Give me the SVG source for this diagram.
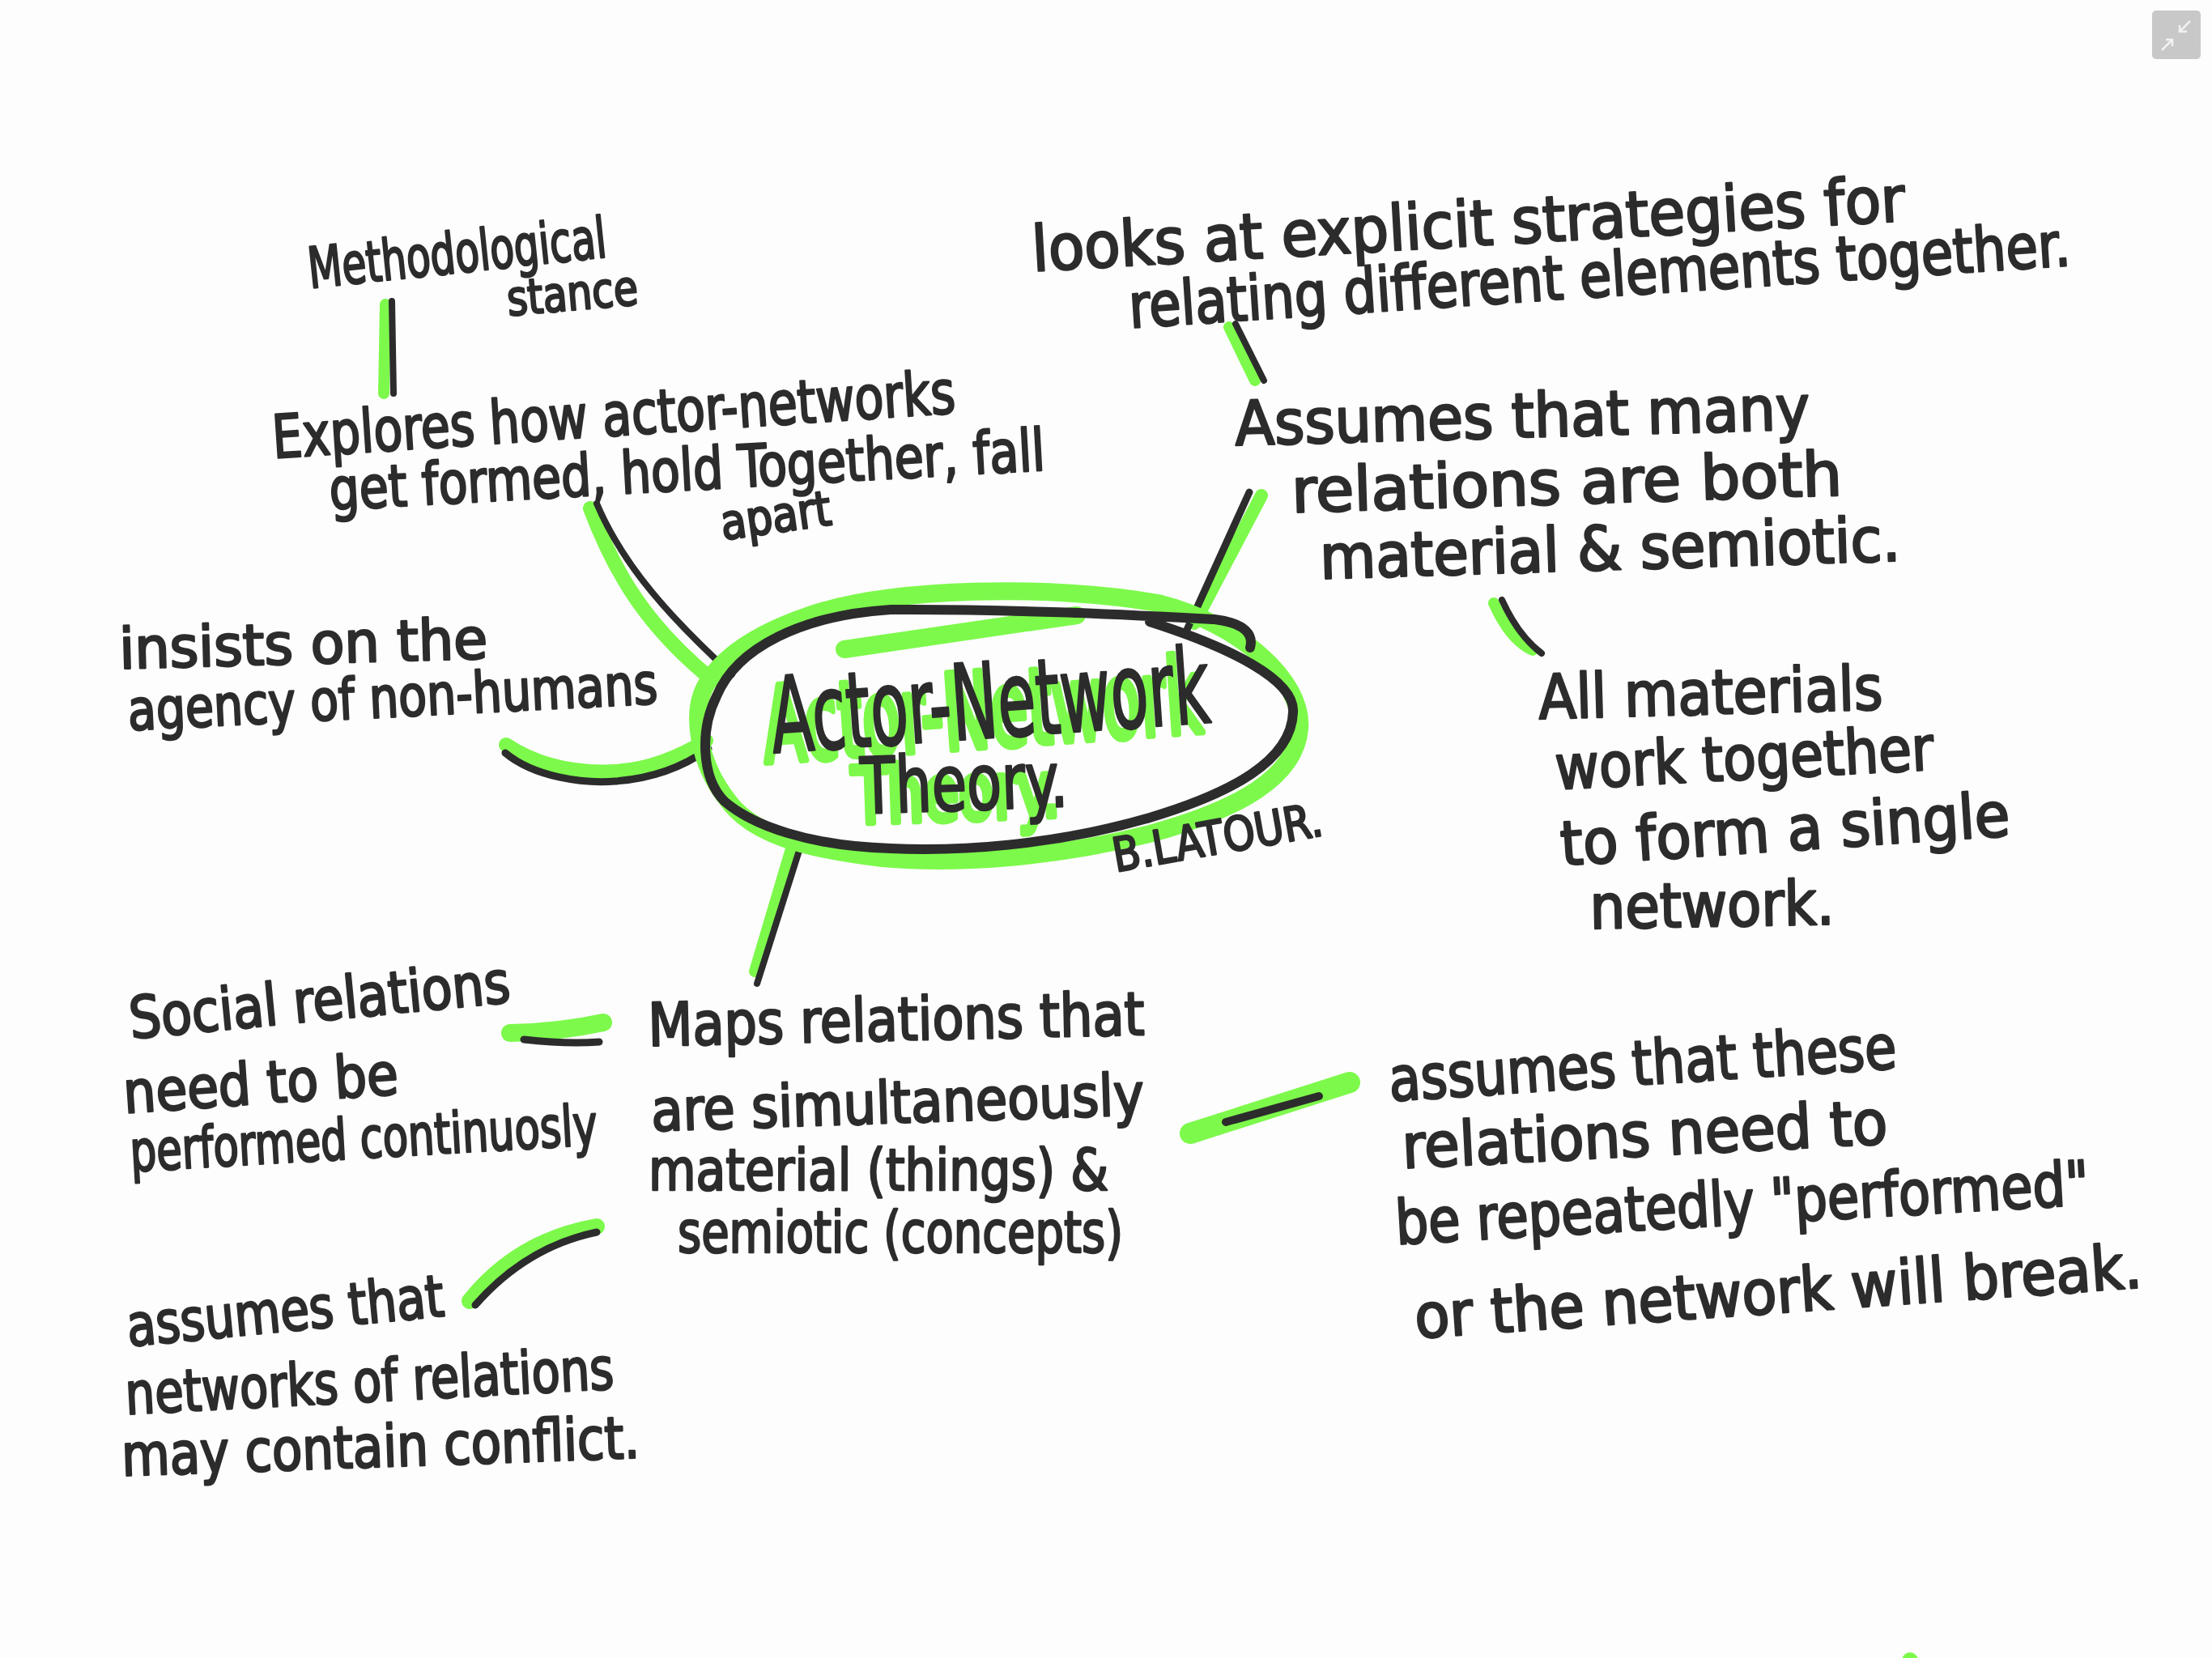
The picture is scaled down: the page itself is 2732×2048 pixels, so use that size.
<svg xmlns="http://www.w3.org/2000/svg" width="2732" height="2048" viewBox="0 0 2732 2048">
<style>
.t{font-family:"Liberation Sans Narrow","DejaVu Sans Condensed","Liberation Sans",sans-serif;fill:#2c2c2c;stroke:#2c2c2c;stroke-width:2.5;stroke-linejoin:round}
.g{fill:none;stroke:#7df94b;stroke-linecap:round;stroke-linejoin:round}
.k{fill:none;stroke:#2c2c2c;stroke-linecap:round;stroke-linejoin:round}
.gt{font-family:"Liberation Sans Narrow","DejaVu Sans Condensed","Liberation Sans",sans-serif;fill:#7df94b;stroke:#7df94b;stroke-width:8;stroke-linejoin:round}
</style>
<rect width="2732" height="2048" fill="#fdfdfd"/>

<g id="connectors">
  <path class="g" stroke-width="14" d="M476,376 L474,486"/>
  <path class="k" stroke-width="8" d="M484,372 L486,486"/>
  <path class="g" stroke-width="18" d="M729,628 C760,710 800,775 880,840"/>
  <path class="k" stroke-width="8" d="M737,622 C770,700 830,765 904,833"/>
  <path class="g" stroke-width="14" d="M1518,404 L1550,470"/>
  <path class="k" stroke-width="8" d="M1526,400 L1561,470"/>
  <path class="g" stroke-width="16" d="M1558,612 L1475,770"/>
  <path class="k" stroke-width="9" d="M1543,608 L1465,780"/>
  <path class="g" stroke-width="14" d="M1845,745 Q1865,790 1893,803"/>
  <path class="k" stroke-width="8" d="M1855,741 Q1875,785 1904,807"/>
  <path class="g" stroke-width="18" d="M625,920 C670,950 720,955 760,953 C800,951 840,935 872,915"/>
  <path class="k" stroke-width="9" d="M624,930 C660,960 720,968 760,965 C800,962 840,950 875,925"/>
  <path class="g" stroke-width="14" d="M978,1045 L932,1200"/>
  <path class="k" stroke-width="8" d="M992,1035 L935,1215"/>
  <path class="g" stroke-width="22" d="M630,1276 Q690,1275 745,1263"/>
  <path class="k" stroke-width="9" d="M647,1284 Q700,1290 740,1287"/>
  <path class="g" stroke-width="20" d="M580,1607 Q640,1532 737,1515"/>
  <path class="k" stroke-width="9" d="M587,1612 Q650,1540 737,1522"/>
  <path class="g" stroke-width="26" d="M1470,1400 L1667,1337"/>
  <path class="k" stroke-width="10" d="M1514,1386 L1629,1354"/>
</g>

<g id="center">
  <path class="g" stroke-width="22" d="M1000,760 C1100,725 1300,722 1430,745 C1530,770 1610,840 1605,900 C1600,960 1530,1000 1420,1030 C1300,1060 1180,1068 1090,1060 C990,1048 930,1030 900,990 C860,940 855,880 870,850 C890,810 940,780 1000,760 Z"/>
  <path class="g" stroke-width="22" d="M1043,802 L1330,760"/>
  <path class="k" stroke-width="12" d="M1420,768 C1520,800 1600,840 1597,880 C1595,940 1520,980 1420,1010 C1300,1045 1180,1052 1100,1048 C1000,1045 930,1020 895,990 C865,960 865,900 885,860 C910,800 990,760 1100,753 C1250,752 1400,760 1500,765 C1540,770 1548,785 1544,800"/>
  <text class="gt" x="945" y="942" font-size="130" textLength="543" lengthAdjust="spacingAndGlyphs" transform="rotate(-4 945 942)">Actor-Network</text>
  <text class="gt" x="1054" y="1017" font-size="96" textLength="256" lengthAdjust="spacingAndGlyphs" transform="rotate(-2 1054 1017)">Theory.</text>
  <text class="t" x="955" y="930" font-size="130" textLength="543" lengthAdjust="spacingAndGlyphs" transform="rotate(-4 955 930)">Actor-Network</text>
  <text class="t" x="1064" y="1005" font-size="96" textLength="256" lengthAdjust="spacingAndGlyphs" transform="rotate(-2 1064 1005)">Theory.</text>
  <text class="t" x="1378" y="1077" font-size="58" textLength="262" lengthAdjust="spacingAndGlyphs" transform="rotate(-10 1378 1077)">B.LATOUR.</text>
</g>

<g id="methodological">
  <text class="t" x="383" y="356" font-size="70" textLength="370" lengthAdjust="spacingAndGlyphs" transform="rotate(-6 383 356)">Methodological</text>
  <text class="t" x="628" y="390" font-size="60" textLength="162" lengthAdjust="spacingAndGlyphs" transform="rotate(-5 628 390)">stance</text>
</g>

<g id="explores">
  <text class="t" x="338" y="566" font-size="74" textLength="845" lengthAdjust="spacingAndGlyphs" transform="rotate(-3.8 338 566)">Explores how actor-networks</text>
  <text class="t" x="408" y="630" font-size="72" textLength="885" lengthAdjust="spacingAndGlyphs" transform="rotate(-3.2 408 630)">get formed, hold Together, fall</text>
  <text class="t" x="893" y="667" font-size="60" textLength="137" lengthAdjust="spacingAndGlyphs" transform="rotate(-8 893 667)">apart</text>
</g>

<g id="looks">
  <text class="t" x="1276" y="335" font-size="78" textLength="1080" lengthAdjust="spacingAndGlyphs" transform="rotate(-3.3 1276 335)">looks at explicit strategies for</text>
  <text class="t" x="1396" y="405" font-size="76" textLength="1165" lengthAdjust="spacingAndGlyphs" transform="rotate(-3.8 1396 405)">relating different elements together.</text>
</g>

<g id="assumes-many">
  <text class="t" x="1526" y="550" font-size="76" textLength="710" lengthAdjust="spacingAndGlyphs" transform="rotate(-1.6 1526 550)">Assumes that many</text>
  <text class="t" x="1596" y="633" font-size="76" textLength="680" lengthAdjust="spacingAndGlyphs" transform="rotate(-1.8 1596 633)">relations are both</text>
  <text class="t" x="1631" y="715" font-size="76" textLength="717" lengthAdjust="spacingAndGlyphs" transform="rotate(-1.8 1631 715)">material &amp; semiotic.</text>
</g>

<g id="all-materials">
  <text class="t" x="1901" y="888" font-size="76" textLength="425" lengthAdjust="spacingAndGlyphs" transform="rotate(-1.6 1901 888)">All materials</text>
  <text class="t" x="1922" y="975" font-size="76" textLength="468" lengthAdjust="spacingAndGlyphs" transform="rotate(-3 1922 975)">work together</text>
  <text class="t" x="1929" y="1069" font-size="76" textLength="556" lengthAdjust="spacingAndGlyphs" transform="rotate(-3.8 1929 1069)">to form a single</text>
  <text class="t" x="1964" y="1147" font-size="76" textLength="302" lengthAdjust="spacingAndGlyphs" transform="rotate(-1 1964 1147)">network.</text>
</g>

<g id="insists">
  <text class="t" x="148" y="826" font-size="70" textLength="455" lengthAdjust="spacingAndGlyphs" transform="rotate(-1.6 148 826)">insists on the</text>
  <text class="t" x="159" y="902" font-size="70" textLength="655" lengthAdjust="spacingAndGlyphs" transform="rotate(-2.9 159 902)">agency of non-humans</text>
</g>

<g id="social">
  <text class="t" x="162" y="1283" font-size="72" textLength="472" lengthAdjust="spacingAndGlyphs" transform="rotate(-5.5 162 1283)">Social relations</text>
  <text class="t" x="154" y="1375" font-size="72" textLength="340" lengthAdjust="spacingAndGlyphs" transform="rotate(-4 154 1375)">need to be</text>
  <text class="t" x="162" y="1447" font-size="70" textLength="578" lengthAdjust="spacingAndGlyphs" transform="rotate(-3.3 162 1447)">performed continuosly</text>
</g>

<g id="maps">
  <text class="t" x="801" y="1292" font-size="74" textLength="613" lengthAdjust="spacingAndGlyphs" transform="rotate(-1.3 801 1292)">Maps relations that</text>
  <text class="t" x="805" y="1397" font-size="72" textLength="609" lengthAdjust="spacingAndGlyphs" transform="rotate(-1.9 805 1397)">are simultaneously</text>
  <text class="t" x="801" y="1470" font-size="72" textLength="568" lengthAdjust="spacingAndGlyphs">material (things) &amp;</text>
  <text class="t" x="837" y="1547" font-size="72" textLength="550" lengthAdjust="spacingAndGlyphs">semiotic (concepts)</text>
</g>

<g id="conflict">
  <text class="t" x="159" y="1663" font-size="72" textLength="393" lengthAdjust="spacingAndGlyphs" transform="rotate(-5.5 159 1663)">assumes that</text>
  <text class="t" x="156" y="1747" font-size="72" textLength="604" lengthAdjust="spacingAndGlyphs" transform="rotate(-3 156 1747)">networks of relations</text>
  <text class="t" x="151" y="1823" font-size="72" textLength="640" lengthAdjust="spacingAndGlyphs" transform="rotate(-2 151 1823)">may contain conflict.</text>
</g>

<g id="performed">
  <text class="t" x="1717" y="1360" font-size="76" textLength="628" lengthAdjust="spacingAndGlyphs" transform="rotate(-3.7 1717 1360)">assumes that these</text>
  <text class="t" x="1733" y="1443" font-size="76" textLength="600" lengthAdjust="spacingAndGlyphs" transform="rotate(-2.9 1733 1443)">relations need to</text>
  <text class="t" x="1725" y="1537" font-size="76" textLength="858" lengthAdjust="spacingAndGlyphs" transform="rotate(-3.3 1725 1537)">be repeatedly "performed"</text>
  <text class="t" x="1749" y="1653" font-size="76" textLength="900" lengthAdjust="spacingAndGlyphs" transform="rotate(-4 1749 1653)">or the network will break.</text>
</g>

<g id="ui">
  <rect x="2658" y="13" width="60" height="60" rx="5" fill="#c8c8c8"/>
  <path d="M2705,26 L2692,39 M2692,31 L2692,39 L2701,39 M2670,62 L2683,49 M2675,49 L2683,49 L2683,57" fill="none" stroke="#f2f2f2" stroke-width="2.5"/>
  <circle cx="2359" cy="2051" r="10" fill="#7df94b"/>
</g>
</svg>
